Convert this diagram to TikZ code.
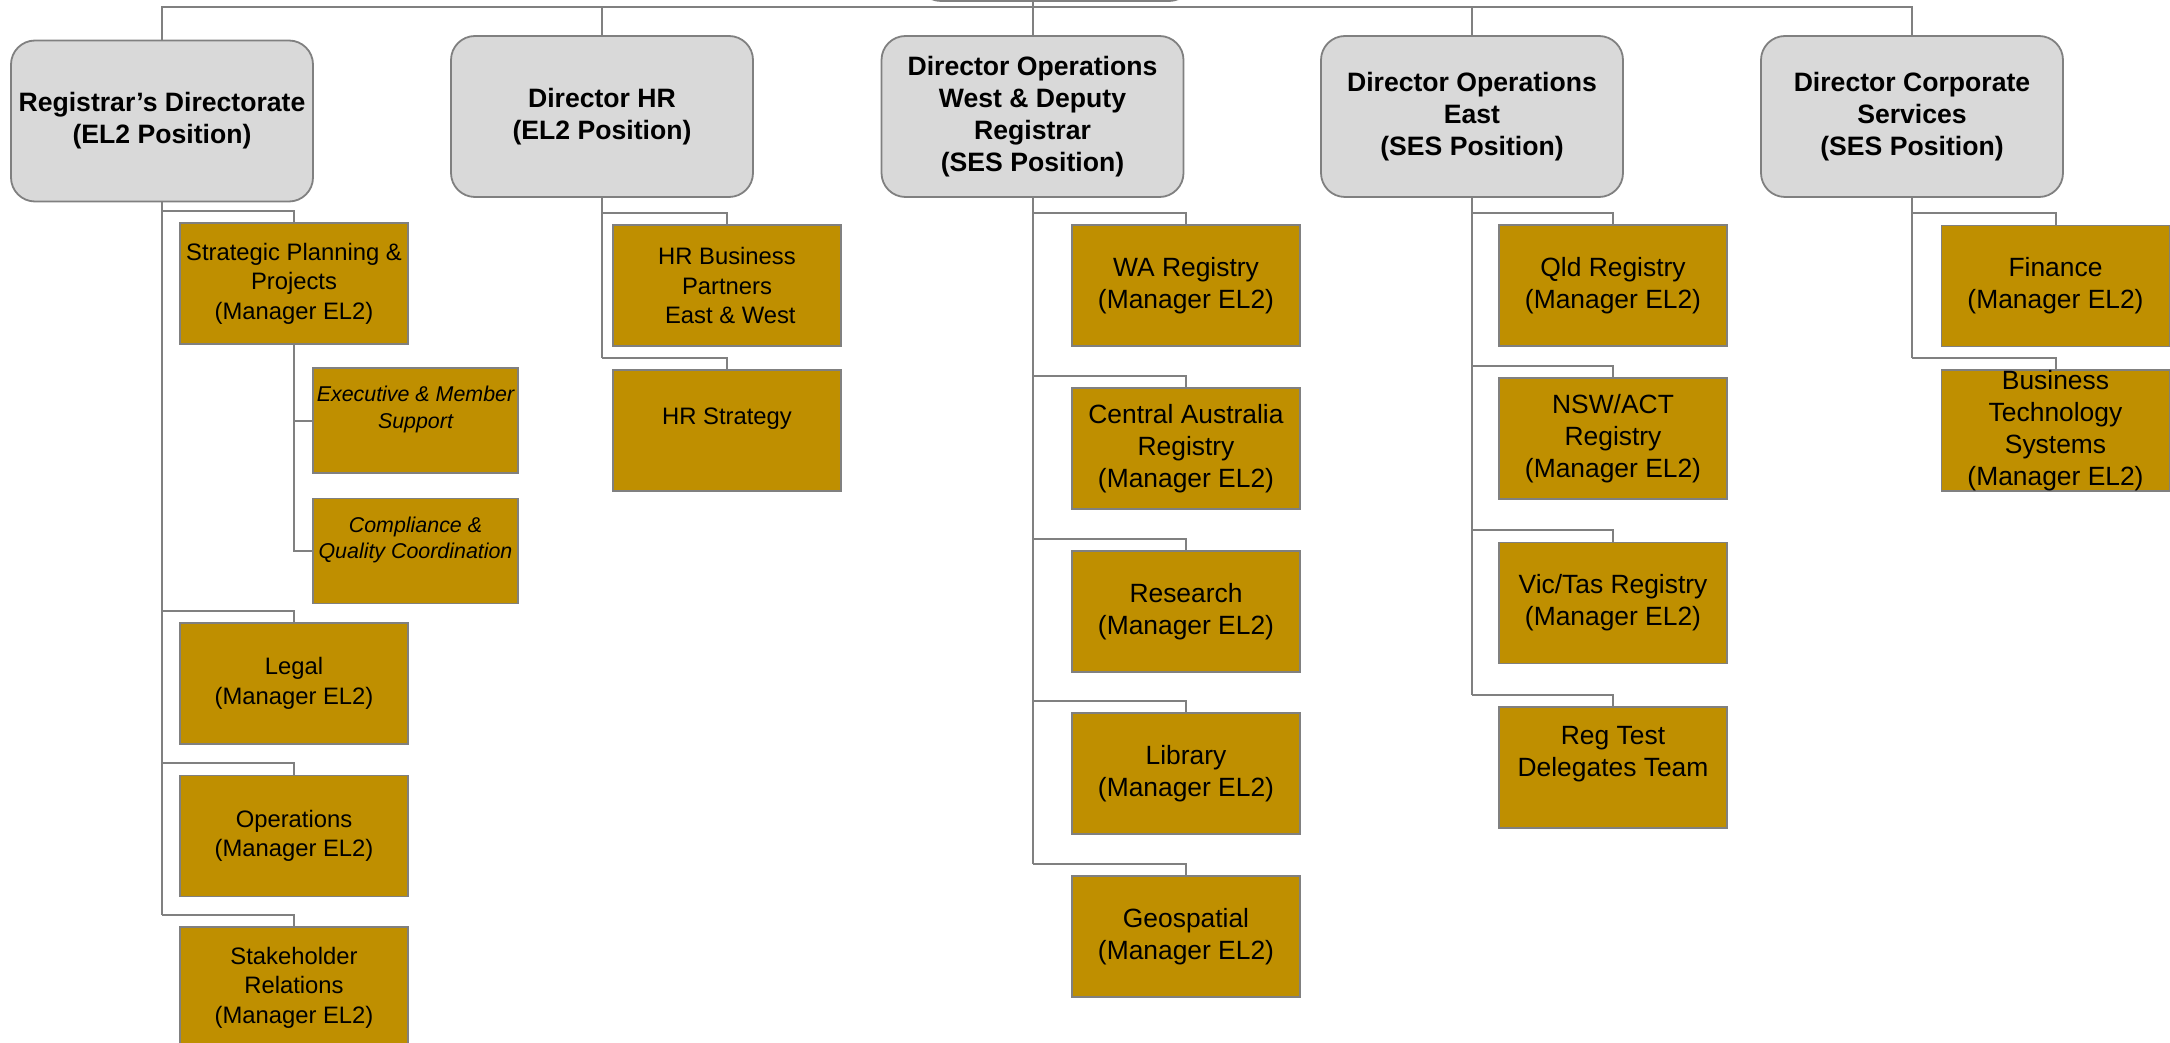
\documentclass[tikz,border=0pt]{standalone}
\usepackage{fontspec}
\setmainfont{Liberation Sans}
\usetikzlibrary{calc}
\definecolor{gold}{RGB}{191,143,0}
\definecolor{hdrfill}{RGB}{217,217,217}
\definecolor{wiregray}{RGB}{128,128,128}
\definecolor{edgegray}{RGB}{128,128,128}

% connector from a parent's trunk to the top of a child box
\newcommand\orgbranch[2]{%
  \coordinate (#2J) at ($(#2.north)+(0,-11.5)$);
  \draw[wire] (#1.south |- #2J) -| (#2.north);}

\begin{document}
\begin{tikzpicture}[x=0.5pt,y=-0.5pt,
  wire/.style={draw=wiregray,line width=1pt},
  hdr/.style={draw=edgegray,fill=hdrfill,line width=0.9pt,rounded corners=12pt,
    minimum width=151pt,minimum height=80.5pt,inner sep=0pt,align=center,
    font=\bfseries\fontsize{13.3}{16.1}\selectfont},
  unit/.style={draw=edgegray,fill=gold,line width=0.9pt,minimum width=114pt,
    minimum height=60.5pt,inner sep=0pt,align=center},
  big/.style={unit,font=\fontsize{13.2}{16}\selectfont},
  small/.style={unit,font=\fontsize{11.9}{14.7}\selectfont},
  sub/.style={draw=edgegray,fill=gold,line width=0.9pt,minimum width=102.5pt,
    minimum height=52.5pt,inner sep=0pt,align=center,
    font=\itshape\fontsize{10.7}{13.3}\selectfont},
]
\useasboundingbox (0,0) rectangle (2170,1043);
\clip (0,0) rectangle (2170,1043);

% top-level box (only its lower edge lies on the page)
\node[hdr,minimum width=138pt] (top) at (1055,-79.5) {};

% directorates
\node[hdr] (reg)  at (162,121)    {Registrar’s Directorate\\(EL2 Position)};
\node[hdr] (hr)   at (602,116.5)  {Director HR\\(EL2 Position)};
\node[hdr] (west) at (1032.5,116.5) {Director Operations\\West \& Deputy\\Registrar\\(SES Position)};
\node[hdr] (east) at (1472,116.5) {Director Operations\\East\\(SES Position)};
\node[hdr] (corp) at (1912,116.5) {Director Corporate\\Services\\(SES Position)};

% Registrar's Directorate units
\node[small] (sp)    at (294,283.5) {Strategic Planning \&\\Projects\\(Manager EL2)};
\node[sub]   (exec)  at (415.5,420.5) {Executive \& Member\\Support\\\mbox{}};
\node[sub]   (comp)  at (415.5,551) {Compliance \&\\Quality Coordination\\\mbox{}};
\node[small] (legal) at (294,683.5) {Legal\\(Manager EL2)};
\node[small] (ops)   at (294,836)   {Operations\\(Manager EL2)};
\node[small] (stake) at (294,987.5) {Stakeholder\\Relations\\(Manager EL2)};

% HR units
\node[small] (hrbp) at (727,285.5) {HR Business\\Partners\\\mbox{ }East \& West};
\node[small] (hrs)  at (727,430.5) {HR Strategy\\\mbox{}};

% Operations West units
\node[big] (wa)  at (1186,285.5) {WA Registry\\(Manager EL2)};
\node[big] (ca)  at (1186,448.5) {Central Australia\\Registry\\(Manager EL2)};
\node[big] (res) at (1186,611.5) {Research\\(Manager EL2)};
\node[big] (lib) at (1186,773.5) {Library\\(Manager EL2)};
\node[big] (geo) at (1186,936.5) {Geospatial\\(Manager EL2)};

% Operations East units
\node[big] (qld) at (1613,285.5) {Qld Registry\\(Manager EL2)};
\node[big] (nsw) at (1613,438.5) {NSW/ACT\\Registry\\(Manager EL2)};
\node[big] (vic) at (1613,603)   {Vic/Tas Registry\\(Manager EL2)};
\node[big] (rt)  at (1613,767.5) {Reg Test\\Delegates Team\\\mbox{}};

% Corporate Services units
\node[big] (fin) at (2055.5,286)   {Finance\\(Manager EL2)};
\node[big] (bts) at (2055.5,430.5) {Business\\Technology\\Systems\\(Manager EL2)};

% bus linking the directorates
\coordinate (bus) at (0,7.5);
\draw[wire] (reg.north) -- (reg.north |- bus) -- (corp.north |- bus) -- (corp.north);
\draw[wire] (hr.north) -- (hr.north |- bus);
\draw[wire] (west.north |- top.south) -- (west.north);
\draw[wire] (east.north) -- (east.north |- bus);

% Registrar's Directorate tree
\orgbranch{reg}{sp}
\orgbranch{reg}{legal}
\orgbranch{reg}{ops}
\orgbranch{reg}{stake}
\draw[wire] (reg.south) -- (reg.south |- stakeJ);
\draw[wire] (sp.south) |- (comp.west);
\draw[wire] (sp.south |- exec.west) -- (exec.west);

% HR tree
\orgbranch{hr}{hrbp}
\orgbranch{hr}{hrs}
\draw[wire] (hr.south) -- (hr.south |- hrsJ);

% Operations West tree
\orgbranch{west}{wa}
\orgbranch{west}{ca}
\orgbranch{west}{res}
\orgbranch{west}{lib}
\orgbranch{west}{geo}
\draw[wire] (west.south) -- (west.south |- geoJ);

% Operations East tree
\orgbranch{east}{qld}
\orgbranch{east}{nsw}
\orgbranch{east}{vic}
\orgbranch{east}{rt}
\draw[wire] (east.south) -- (east.south |- rtJ);

% Corporate Services tree
\orgbranch{corp}{fin}
\orgbranch{corp}{bts}
\draw[wire] (corp.south) -- (corp.south |- btsJ);
\end{tikzpicture}
\end{document}
